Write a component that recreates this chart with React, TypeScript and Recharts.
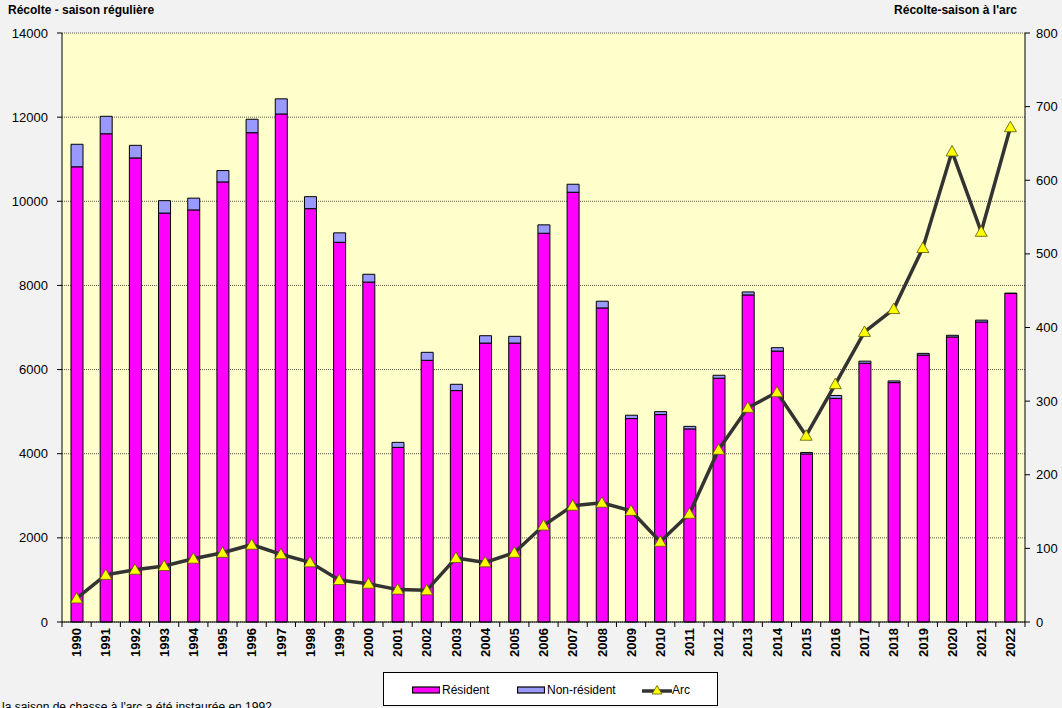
import React from 'react';
import { ComposedChart, Bar, Line, XAxis, YAxis, CartesianGrid } from 'recharts';

const years = ['1990','1991','1992','1993','1994','1995','1996','1997','1998','1999','2000','2001','2002','2003','2004','2005','2006','2007','2008','2009','2010','2011','2012','2013','2014','2015','2016','2017','2018','2019','2020','2021','2022'];
const resident = [10820, 11605, 11030, 9720, 9795, 10460, 11630, 12075, 9825, 9025, 8080, 4150, 6220, 5500, 6630, 6630, 9240, 10215, 7465, 4835, 4930, 4590, 5795, 7775, 6440, 3995, 5315, 6150, 5690, 6345, 6775, 7130, 7810];
const nonResident = [535, 415, 300, 295, 280, 270, 320, 360, 285, 225, 185, 120, 190, 150, 175, 160, 200, 190, 160, 80, 70, 60, 70, 70, 80, 35, 70, 50, 40, 40, 40, 45, 5];
const arc = [32, 64, 71, 76, 86, 94, 105, 92, 81, 57, 52, 44, 43, 87, 81, 94, 131, 158, 162, 151, 109, 147, 234, 291, 312, 253, 323, 394, 425, 508, 639, 530, 672];
const leftTicks = [0, 2000, 4000, 6000, 8000, 10000, 12000, 14000];
const rightTicks = [0, 100, 200, 300, 400, 500, 600, 700, 800];

const data = years.map((y, i) => ({ year: y, res: resident[i], non: nonResident[i], arc: arc[i] }));

const W = 1062;
const H = 708;
const LEFT_W = 62;
const RIGHT_W = 37;
const TOP = 33;
const XAXIS_H = 86;
const PLOT_W = W - LEFT_W - RIGHT_W;
const HALF_BAND = PLOT_W / years.length / 2;
const FONT = '"Liberation Sans", Arial, sans-serif';

const XTick = (props: any) => {
  const { x, y, payload, index } = props;
  const last = index === years.length - 1;
  return (
    <g>
      <line x1={x - HALF_BAND} x2={x - HALF_BAND} y1={y} y2={y + 5} stroke="#000" />
      {last && <line x1={x + HALF_BAND} x2={x + HALF_BAND} y1={y} y2={y + 5} stroke="#000" />}
      <text
        x={x}
        y={y + 6}
        transform={`rotate(-90 ${x} ${y + 6})`}
        textAnchor="end"
        dy="0.36em"
        fontSize={13}
        fontWeight="bold"
        fontFamily={FONT}
        fill="#000"
      >
        {payload.value}
      </text>
    </g>
  );
};

const TriDot = (props: any) => {
  const { cx, cy, index } = props;
  if (cx == null || cy == null) return <g key={`d${index}`} />;
  const d = `M${cx},${cy - 6} L${cx + 6},${cy + 4.5} L${cx - 6},${cy + 4.5} Z`;
  return <path key={`d${index}`} d={d} fill="#FFFF00" stroke="#555500" strokeWidth={0.8} />;
};

export default function App() {
  return (
    <div style={{ position: 'absolute', left: 0, top: 0, width: W, height: H, background: '#F2F2F2', overflow: 'hidden', fontFamily: FONT }}>
      <ComposedChart
        width={W}
        height={H}
        data={data}
        margin={{ top: TOP, right: 0, bottom: 0, left: 0 }}
        barCategoryGap="10%"
      >
        <CartesianGrid
          yAxisId="left"
          vertical={false}
          stroke="#555"
          strokeDasharray="1 1"
          fill="#FFFFCC"
          fillOpacity={1}
        />
        <XAxis
          dataKey="year"
          height={XAXIS_H}
          interval={0}
          tickSize={0}
          tickMargin={0}
          tickLine={false}
          axisLine={{ stroke: '#000' }}
          tick={<XTick />}
        />
        <YAxis
          yAxisId="left"
          orientation="left"
          width={LEFT_W}
          domain={[0, 14000]}
          ticks={leftTicks}
          interval={0}
          tickSize={5}
          tickMargin={9}
          axisLine={{ stroke: '#000' }}
          tickLine={{ stroke: '#000' }}
          tick={{ fill: '#000', fontSize: 13, fontFamily: FONT }}
        />
        <YAxis
          yAxisId="right"
          orientation="right"
          width={RIGHT_W}
          domain={[0, 800]}
          ticks={rightTicks}
          interval={0}
          tickSize={5}
          tickMargin={6}
          axisLine={{ stroke: '#000' }}
          tickLine={{ stroke: '#000' }}
          tick={{ fill: '#000', fontSize: 13, fontFamily: FONT }}
        />
        <Bar yAxisId="left" dataKey="res" stackId="a" fill="#FF00FF" stroke="#000" strokeWidth={1} barSize={12} isAnimationActive={false} />
        <Bar yAxisId="left" dataKey="non" stackId="a" fill="#9999FF" stroke="#000" strokeWidth={1} barSize={12} isAnimationActive={false} />
        <Line
          yAxisId="right"
          dataKey="arc"
          stroke="#333333"
          strokeWidth={3.5}
          dot={(p: any) => <TriDot {...p} />}
          activeDot={false}
          isAnimationActive={false}
        />
      </ComposedChart>

      <div style={{ position: 'absolute', left: 8, top: 3, fontSize: 12, fontWeight: 'bold', color: '#000', whiteSpace: 'nowrap' }}>
        Récolte - saison régulière
      </div>
      <div style={{ position: 'absolute', right: 45, top: 3, fontSize: 12, fontWeight: 'bold', color: '#000', whiteSpace: 'nowrap' }}>
        Récolte-saison à l'arc
      </div>

      <div style={{ position: 'absolute', left: 383, top: 672, width: 333, height: 32, background: '#fff', border: '1px solid #000', fontSize: 12, color: '#000' }}>
        <div style={{ position: 'absolute', left: 28, top: 10, display: 'flex', alignItems: 'center' }}>
          <svg width={28} height={8}><rect x={0.5} y={1} width={27} height={6} fill="#FF00FF" stroke="#000" strokeWidth={1.2} /></svg>
          <span style={{ marginLeft: 2 }}>Résident</span>
        </div>
        <div style={{ position: 'absolute', left: 133, top: 10, display: 'flex', alignItems: 'center' }}>
          <svg width={28} height={8}><rect x={0.5} y={1} width={27} height={6} fill="#9999FF" stroke="#000" strokeWidth={1.2} /></svg>
          <span style={{ marginLeft: 2 }}>Non-résident</span>
        </div>
        <div style={{ position: 'absolute', left: 258, top: 10, display: 'flex', alignItems: 'center' }}>
          <svg width={30} height={12}>
            <line x1={0} x2={30} y1={7} y2={7} stroke="#333" strokeWidth={3.5} />
            <path d="M15,1.5 L20,10 L10,10 Z" fill="#FFFF00" stroke="#555500" strokeWidth={0.8} />
          </svg>
          <span>Arc</span>
        </div>
      </div>

      <div style={{ position: 'absolute', left: 2, top: 700, fontSize: 12, color: '#000', whiteSpace: 'nowrap' }}>
        la saison de chasse à l'arc a été instaurée en 1992
      </div>
    </div>
  );
}
